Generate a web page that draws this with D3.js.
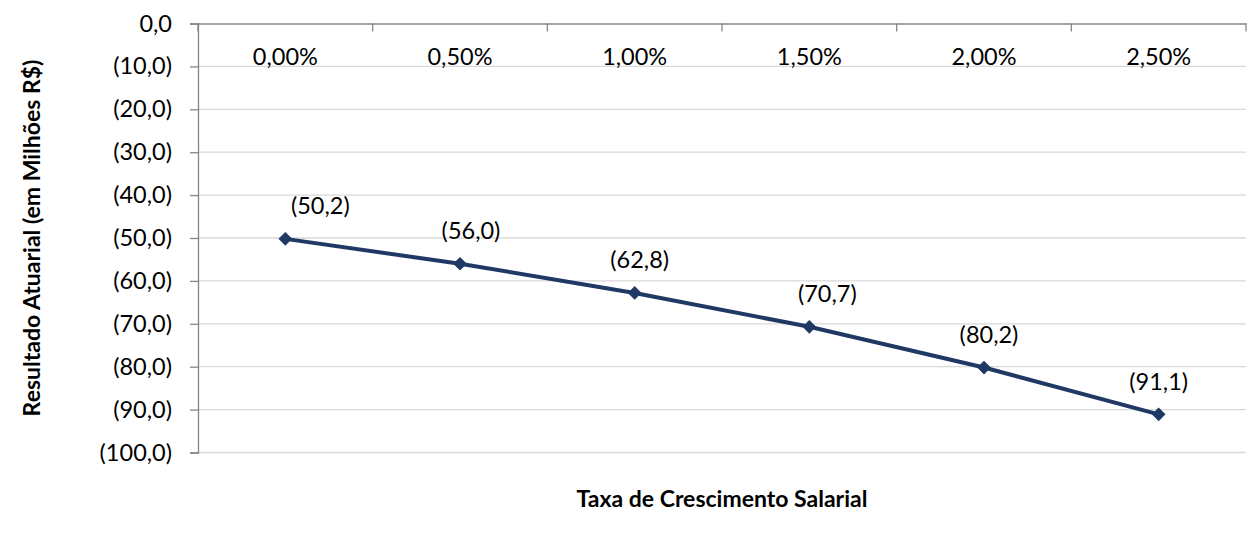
<!DOCTYPE html>
<html>
<head>
<meta charset="utf-8">
<script src="https://cdn.jsdelivr.net/npm/d3@7"></script>
<style>
  body { margin: 0; background: #fff; }
  svg text { font-family: Lato, "Open Sans", sans-serif; fill: #000; }
</style>
</head>
<body>
<svg id="chart" width="1249" height="536"></svg>
<script>
// data
let categories = ["0,00%", "0,50%", "1,00%", "1,50%", "2,00%", "2,50%"];
let values = [-50.2, -56.0, -62.8, -70.7, -80.2, -91.1];
let yTicks = [0, -10, -20, -30, -40, -50, -60, -70, -80, -90, -100];

// small nudges of the data labels, like excel put them
let labelDx = [35, 11, 5, 18, 5, 0];

let width = 1249;
let height = 536;
const margin = { left: 198, top: 23.5, right: 3, bottom: 83.5 };

let svg = d3.select("#chart");

let xScale = d3.scaleBand()
  .domain(categories)
  .range([margin.left, width - margin.right])
  .padding(0);

let yScale = d3.scaleLinear()
  .domain([0, -100])
  .range([margin.top, height - margin.bottom]);

const fmt = (v) => {
  let s = d3.format(".1f")(Math.abs(v)).replace(".", ",");
  return v < 0 ? "(" + s + ")" : s;
};

// gridlines
svg.append("g")
  .selectAll("line")
  .data(yTicks.filter(d => d != 0))
  .enter()
  .append("line")
  .attr("x1", margin.left)
  .attr("x2", width - margin.right)
  .attr("y1", d => yScale(d))
  .attr("y2", d => yScale(d))
  .attr("stroke", "#d9d9d9")
  .attr("stroke-width", 1.3);

// y axis
let yAxis = svg.append("g")
  .attr("transform", `translate(${margin.left},0)`)
  .call(d3.axisLeft(yScale).tickValues(yTicks).tickFormat(fmt).tickSize(8).tickPadding(18));
yAxis.select(".domain").attr("stroke", "#868686").attr("stroke-width", 1.3);
yAxis.selectAll(".tick line").attr("stroke", "#868686").attr("stroke-width", 1.3);
yAxis.selectAll("text")
  .style("font-size", "23.5px")
  .attr("font-family", null);

// x axis at the top (value 0)
let xAxis = svg.append("g")
  .attr("transform", `translate(0,${yScale(0)})`)
  .call(d3.axisTop(xScale).tickSize(0).tickFormat(""));
xAxis.select(".domain").attr("stroke", "#868686").attr("stroke-width", 1.3);

let edges = categories.map(c => xScale(c)).concat([width - margin.right]);
xAxis.selectAll(".edge")
  .data(edges)
  .enter()
  .append("line")
  .attr("x1", d => d)
  .attr("x2", d => d)
  .attr("y1", 0)
  .attr("y2", 8)
  .attr("stroke", "#868686")
  .attr("stroke-width", 1.3);

svg.append("g")
  .selectAll("text")
  .data(categories)
  .enter()
  .append("text")
  .attr("x", d => xScale(d) + xScale.bandwidth() / 2)
  .attr("y", yScale(-10) - 1)
  .attr("text-anchor", "middle")
  .style("font-size", "23.5px")
  .text(d => d);

// the line
let pts = categories.map((c, i) => ({ x: c, y: values[i], i: i }));

const line = d3.line()
  .x(d => xScale(d.x) + xScale.bandwidth() / 2)
  .y(d => yScale(d.y));

svg.append("path")
  .datum(pts)
  .attr("d", line)
  .attr("fill", "none")
  .attr("stroke", "#203864")
  .attr("stroke-width", 4);

svg.append("g")
  .selectAll("path")
  .data(pts)
  .enter()
  .append("path")
  .attr("d", d3.symbol().type(d3.symbolDiamond2).size(120))
  .attr("transform", d => `translate(${xScale(d.x) + xScale.bandwidth() / 2},${yScale(d.y)})`)
  .attr("fill", "#203864");

svg.append("g")
  .selectAll("text")
  .data(pts)
  .enter()
  .append("text")
  .attr("x", d => xScale(d.x) + xScale.bandwidth() / 2 + labelDx[d.i])
  .attr("y", d => yScale(d.y) - 33)
  .attr("dy", "0.35em")
  .attr("text-anchor", "middle")
  .style("font-size", "23.5px")
  .text(d => fmt(d.y));

// axis titles
svg.append("text")
  .attr("x", 722)
  .attr("y", 507)
  .attr("text-anchor", "middle")
  .style("font-size", "23px")
  .style("font-weight", "bold")
  .text("Taxa de Crescimento Salarial");

svg.append("text")
  .attr("transform", "rotate(-90)")
  .attr("x", -238)
  .attr("y", 40)
  .attr("text-anchor", "middle")
  .style("font-size", "23px")
  .style("font-weight", "bold")
  .text("Resultado Atuarial (em Milhões R$)");
</script>
</body>
</html>
